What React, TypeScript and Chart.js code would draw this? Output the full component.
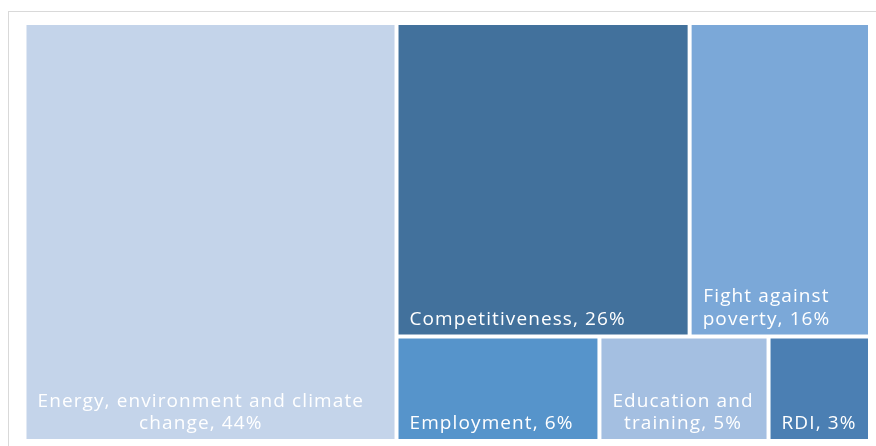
import { useEffect, useRef } from "react";
import { Chart, registerables } from "chart.js";

Chart.register(...registerables);

const categories = [
  "Energy, environment and climate change",
  "Competitiveness",
  "Fight against poverty",
  "Employment",
  "Education and training",
  "RDI",
];
const shares = [44, 26, 16, 6, 5, 3];
const tileColors = ["#C4D4EA", "#42719C", "#7BA8D8", "#5694CB", "#A4BFE1", "#4B7FB3"];

const FONT_SIZE = 19;
const FONT = `500 ${FONT_SIZE}px "Open Sans", sans-serif`;
const LETTER_SPACING = "1.1px";

type Rect = { x0: number; x1: number; y0: number; y1: number; i: number };

// First (largest) item gets a full-height column, the rest fill greedy rows.
function computeTiles(values: number[], kx: number, ky: number): Rect[] {
  const out: Rect[] = [];
  let r = { x: 0, y: 0, w: 100, h: 100 };
  let remaining = values.reduce((a, b) => a + b, 0);
  let i = 0;
  let vertical = true;
  while (i < values.length) {
    const worst = (row: number[]) => {
      const s = row.reduce((a, b) => a + b, 0);
      const frac = s / remaining;
      let m = 0;
      for (const v of row) {
        let pw: number, ph: number;
        if (vertical) {
          pw = r.w * frac * kx;
          ph = (r.h * v) / s * ky;
        } else {
          ph = r.h * frac * ky;
          pw = (r.w * v) / s * kx;
        }
        m = Math.max(m, pw / ph, ph / pw);
      }
      return m;
    };
    const row = [values[i]];
    let j = i + 1;
    if (!vertical) {
      while (j < values.length && worst([...row, values[j]]) <= worst(row)) {
        row.push(values[j]);
        j++;
      }
    }
    const s = row.reduce((a, b) => a + b, 0);
    const frac = s / remaining;
    if (vertical) {
      const cw = r.w * frac;
      let yy = r.y;
      row.forEach((v, k) => {
        const hh = (r.h * v) / s;
        out.push({ x0: r.x, x1: r.x + cw, y0: yy, y1: yy + hh, i: i + k });
        yy += hh;
      });
      r = { x: r.x + cw, y: r.y, w: r.w - cw, h: r.h };
    } else {
      const rh = r.h * frac;
      let xx = r.x;
      row.forEach((v, k) => {
        const ww = (r.w * v) / s;
        out.push({ x0: xx, x1: xx + ww, y0: r.y, y1: r.y + rh, i: i + k });
        xx += ww;
      });
      r = { x: r.x, y: r.y + rh, w: r.w, h: r.h - rh };
    }
    remaining -= s;
    i = j;
    vertical = false;
  }
  return out;
}

function wrap(ctx: CanvasRenderingContext2D, text: string, maxW: number): string[] {
  const words = text.split(" ");
  const lines: string[] = [];
  let cur = "";
  for (const w of words) {
    const t = cur ? cur + " " + w : w;
    if (cur && ctx.measureText(t).width > maxW) {
      lines.push(cur);
      cur = w;
    } else cur = t;
  }
  if (cur) lines.push(cur);
  return lines;
}

const treemapPlugin = {
  id: "treemapTiles",
  beforeDraw(chart: any) {
    const ctx = chart.ctx as CanvasRenderingContext2D;
    ctx.save();
    ctx.strokeStyle = "#D9D9D9";
    ctx.lineWidth = 1;
    ctx.strokeRect(8.5, 11.5, 2000, 2000);
    ctx.restore();
  },
  afterDatasetsDraw(chart: any) {
    const ctx = chart.ctx as CanvasRenderingContext2D;
    const xs = chart.scales.x;
    const ys = chart.scales.y;
    const ca = chart.chartArea;
    const kx = (ca.right - ca.left) / 100;
    const ky = (ca.bottom - ca.top) / 100;
    const tiles = computeTiles(shares, kx, ky);
    const gap = 2;
    const pad = 11;
    ctx.save();
    for (const t of tiles) {
      const left = xs.getPixelForValue(t.x0) + gap;
      const right = xs.getPixelForValue(t.x1) - gap;
      const top = ys.getPixelForValue(t.y0) + gap;
      const bottom = ys.getPixelForValue(t.y1) - gap;
      ctx.fillStyle = tileColors[t.i];
      ctx.fillRect(left, top, right - left, bottom - top);
      ctx.font = FONT;
      (ctx as any).letterSpacing = LETTER_SPACING;
      ctx.fillStyle = "#FFFFFF";
      ctx.textBaseline = "alphabetic";
      const label = `${categories[t.i]}, ${shares[t.i]}%`;
      const lines = wrap(ctx, label, right - left - 2 * pad);
      const widths = lines.map((l) => ctx.measureText(l).width);
      const blockW = Math.max(...widths);
      const lh = 22.5;
      lines.forEach((l, k) => {
        const base = bottom - 10 - (lines.length - 1 - k) * lh;
        const lx = left + pad + (blockW - widths[k]) / 2;
        ctx.fillText(l, lx, base);
      });
    }
    ctx.restore();
  },
};

export default function App() {
  const ref = useRef<HTMLCanvasElement | null>(null);
  useEffect(() => {
    if (!ref.current) return;
    const chart = new Chart(ref.current, {
      type: "scatter",
      data: { datasets: [{ label: "Share", data: [] }] },
      options: {
        animation: false,
        responsive: false,
        layout: { padding: { left: 24.5, top: 23, right: 6, bottom: 5 } },
        plugins: { legend: { display: false }, tooltip: { enabled: false } },
        scales: {
          x: { type: "linear", min: 0, max: 100, display: false },
          y: { type: "linear", min: 0, max: 100, reverse: true, display: false },
        },
      },
      plugins: [treemapPlugin],
    });
    return () => chart.destroy();
  }, []);
  return (
    <div style={{ position: "absolute", left: 0, top: 0, width: 876, height: 446, background: "#fff" }}>
      <canvas ref={ref} width={876} height={446} style={{ display: "block" }} />
    </div>
  );
}
